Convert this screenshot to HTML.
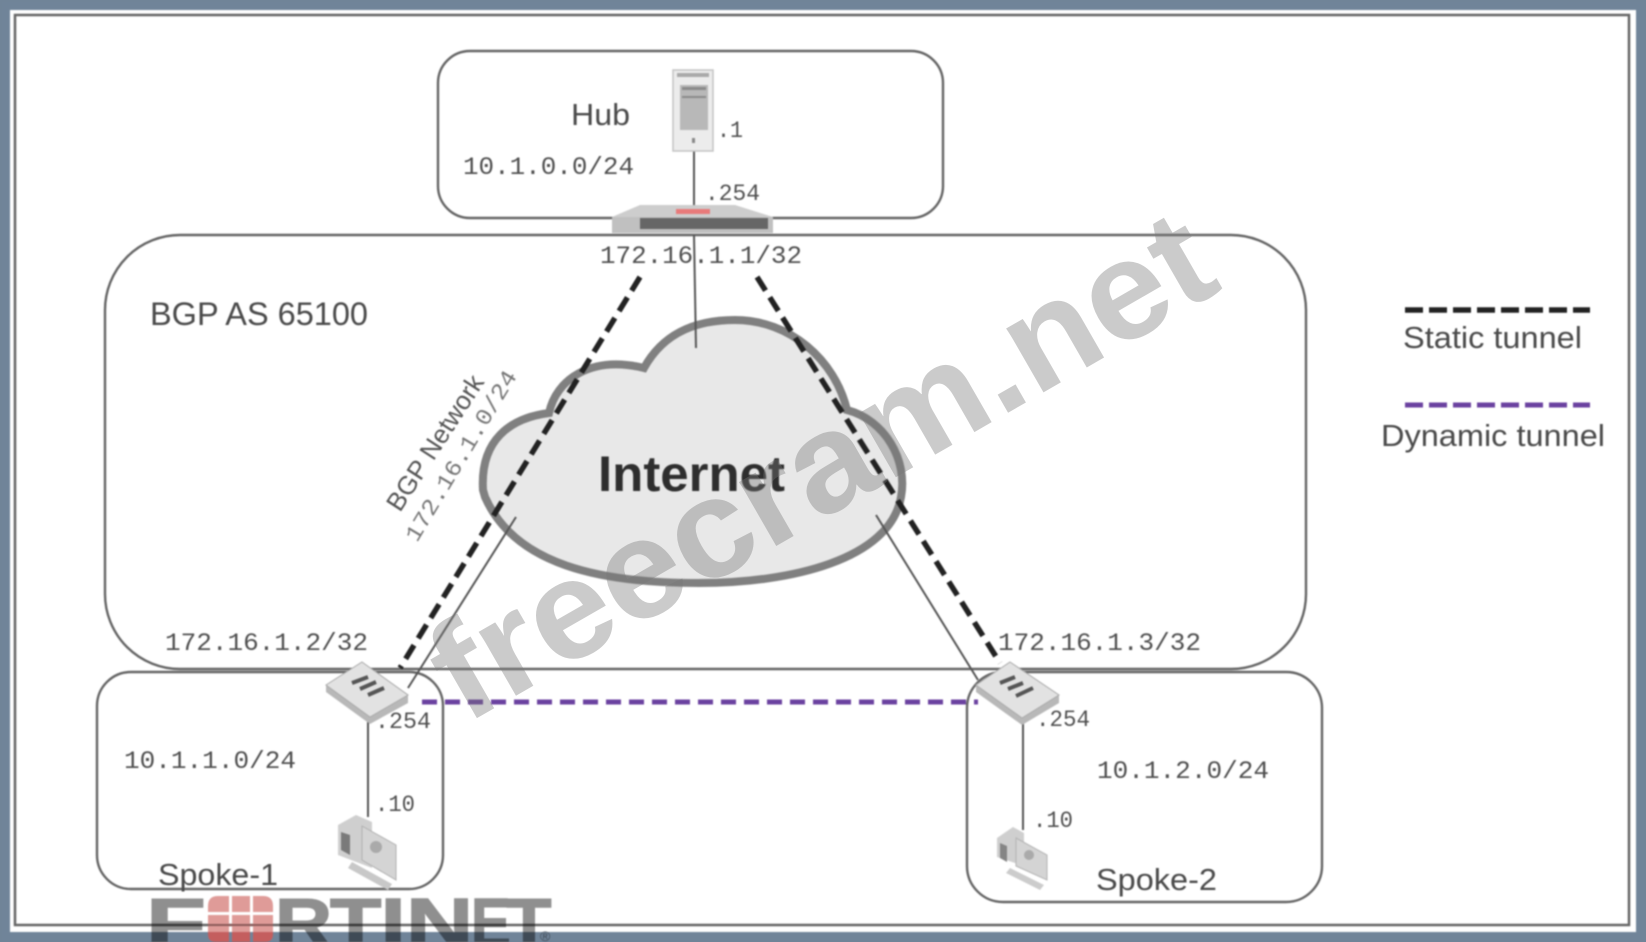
<!DOCTYPE html>
<html><head><meta charset="utf-8"><style>
html,body{margin:0;padding:0;background:#708499;width:1646px;height:942px;overflow:hidden}
svg{display:block}
.m{font-family:"Liberation Mono",monospace;font-size:25px;fill:#4f4f4f}
.n{font-size:23px}
.s{font-family:"Liberation Sans",sans-serif;font-size:31px;fill:#4a4a4a}
</style></head><body>
<svg width="1646" height="942" viewBox="0 0 1646 942" xmlns="http://www.w3.org/2000/svg">
<g style="filter:blur(0.8px)">
<rect width="1646" height="942" fill="#708499"/>
<rect x="10" y="10" width="1626" height="922" fill="#fff"/>
<rect x="15" y="15" width="1614" height="910" fill="#fff" stroke="#666" stroke-width="2.5"/>
<g fill="none" stroke="#666" stroke-width="2.4">
<rect x="105" y="235" width="1201" height="434" rx="75"/>
<rect x="438" y="51" width="505" height="167" rx="32"/>
<rect x="97" y="672" width="346" height="217" rx="34"/>
<rect x="967" y="672" width="355" height="230" rx="36"/>
</g>
<path d="M483 490C480 440 510 418 549 413C556 380 590 355 644 368C665 330 700 320 735 320C790 320 835 360 847 410C885 420 908 460 901 497C890 560 790 583 699 583C600 583 515 565 485 497Z" fill="#e8e8e8" stroke="#808080" stroke-width="8"/>
<g stroke="#555" stroke-width="2" fill="none">
<path d="M694 151V210M694 235L696 348"/>
<path d="M516 517L408 688"/>
<path d="M876 515L978 680"/>
<path d="M368 717V817"/>
<path d="M1023 718V830"/>
</g>
<g fill="none" stroke="#222" stroke-width="5.5">
<path d="M640 277L400 668" stroke-dasharray="16 8"/>
<path d="M757 277L1000 663" stroke-dasharray="16 8"/>
<path d="M1405 310H1590" stroke-dasharray="18 6"/>
</g>
<g fill="none" stroke="#6b42a0" stroke-width="5">
<path d="M422 702H978" stroke-dasharray="15 8"/>
<path d="M1405 405H1590" stroke-dasharray="18 6"/>
</g>
<!-- server -->
<rect x="673" y="70" width="40" height="81" fill="#ececec" stroke="#c4c4c4" stroke-width="1.5"/>
<rect x="680" y="85" width="28" height="45" fill="#b8b8b8"/>
<rect x="677" y="73" width="32" height="4" fill="#aaa"/>
<rect x="682" y="87" width="24" height="3" fill="#8a8a8a"/>
<rect x="682" y="96" width="24" height="2" fill="#8a8a8a"/>
<rect x="692" y="138" width="3" height="5" fill="#888"/>
<!-- hub fw -->
<polygon points="612,217 640,205 735,205 773,217 773,233 612,233" fill="#cdcdcd"/>
<rect x="612" y="217" width="161" height="16" fill="#c0c0c0"/>
<rect x="640" y="218" width="128" height="11" fill="#666"/>
<rect x="676" y="209" width="34" height="5" fill="#e87a7a"/>
<!-- spoke fw -->
<polygon points="326,685 370,717 408,695 408,703 370,724 326,692" fill="#b8b8b8"/>
<polygon points="362,662 408,695 370,717 326,685" fill="#e2e2e2" stroke="#aaa"/>
<g stroke="#555" stroke-width="4"><path d="M352 683L368 677M360 689L376 682M368 695L384 688"/></g>
<polygon points="976,685 1022,718 1059,695 1059,703 1022,725 976,692" fill="#b8b8b8"/>
<polygon points="1010,662 1059,695 1022,718 976,685" fill="#e2e2e2" stroke="#aaa"/>
<g stroke="#555" stroke-width="4"><path d="M1000 683L1015 677M1008 689L1023 683M1016 696L1033 688"/></g>
<!-- pc 1 -->
<polygon points="338,825 356,815 372,822 372,868 338,855" fill="#cfcfcf"/>
<polygon points="341,832 350,835 350,855 341,850" fill="#7a7a7a"/>
<polygon points="362,826 396,845 396,880 362,860" fill="#d4d4d4" stroke="#b0b0b0"/>
<circle cx="376" cy="847" r="6" fill="#aaa"/>
<polygon points="352,862 392,884 388,890 348,868" fill="#c8c8c8"/>
<!-- pc 2 -->
<polygon points="997,838 1013,827 1024,833 1024,866 997,857" fill="#cfcfcf"/>
<polygon points="1000,843 1007,846 1007,862 1000,858" fill="#858585"/>
<polygon points="1016,838 1047,855 1047,880 1016,866" fill="#d4d4d4" stroke="#b4b4b4"/>
<circle cx="1029" cy="855" r="5" fill="#aaa"/>
<polygon points="1010,868 1044,885 1040,890 1006,873" fill="#cccccc"/>
<!-- labels -->
<text class="s" x="571" y="125" textLength="59" lengthAdjust="spacingAndGlyphs">Hub</text>
<text class="m" x="463" y="174" textLength="171" lengthAdjust="spacingAndGlyphs">10.1.0.0/24</text>
<text class="m n" x="717" y="137" textLength="26" lengthAdjust="spacingAndGlyphs">.1</text>
<text class="m n" x="705" y="200" textLength="55" lengthAdjust="spacingAndGlyphs">.254</text>
<text class="m" x="600" y="263" textLength="202" lengthAdjust="spacingAndGlyphs">172.16.1.1/32</text>
<text class="s" x="150" y="325" textLength="218" lengthAdjust="spacingAndGlyphs" style="font-size:32px">BGP AS 65100</text>
<text class="s" transform="translate(400 513) rotate(-57)" textLength="156" lengthAdjust="spacingAndGlyphs" style="font-size:26px;fill:#555">BGP Network</text>
<text class="m" transform="translate(417 543) rotate(-59)" textLength="195" lengthAdjust="spacingAndGlyphs" style="font-size:23px;fill:#777">172.16.1.0/24</text>
<text class="m" x="165" y="650" textLength="203" lengthAdjust="spacingAndGlyphs">172.16.1.2/32</text>
<text class="m" x="124" y="768" textLength="172" lengthAdjust="spacingAndGlyphs">10.1.1.0/24</text>
<text class="m n" x="375" y="728" textLength="56" lengthAdjust="spacingAndGlyphs">.254</text>
<text class="m n" x="375" y="811" textLength="40" lengthAdjust="spacingAndGlyphs">.10</text>
<text class="s" x="158" y="885" textLength="120" lengthAdjust="spacingAndGlyphs">Spoke-1</text>
<text class="m" x="998" y="650" textLength="203" lengthAdjust="spacingAndGlyphs">172.16.1.3/32</text>
<text class="m n" x="1036" y="726" textLength="54" lengthAdjust="spacingAndGlyphs">.254</text>
<text class="m" x="1097" y="778" textLength="172" lengthAdjust="spacingAndGlyphs">10.1.2.0/24</text>
<text class="m n" x="1033" y="827" textLength="40" lengthAdjust="spacingAndGlyphs">.10</text>
<text class="s" x="1096" y="890" textLength="121" lengthAdjust="spacingAndGlyphs">Spoke-2</text>
<text class="s" x="1403" y="348" textLength="179" lengthAdjust="spacingAndGlyphs">Static tunnel</text>
<text class="s" x="1381" y="446" textLength="224" lengthAdjust="spacingAndGlyphs">Dynamic tunnel</text>
<text x="598" y="491" textLength="187" lengthAdjust="spacingAndGlyphs" style="font-family:'Liberation Sans',sans-serif;font-weight:bold;font-size:50px;fill:#2e2e2e">Internet</text>
<!-- logo -->
<g style="mix-blend-mode:multiply" fill="#8f8f8f" stroke="#8f8f8f" stroke-width="1.5" font-family="'Liberation Sans',sans-serif" font-weight="bold" font-size="70">
<text transform="translate(146 947) scale(1.4 1)">F</text>
<text transform="translate(275 947) scale(1.13 1)">R</text>
<text transform="translate(330 947) scale(1.2 1)">T</text>
<text transform="translate(380.5 947) scale(1.3 1)">I</text>
<text transform="translate(406 947) scale(1.33 1)">N</text>
<text transform="translate(471 947) scale(.85 1)">E</text>
<text transform="translate(506.5 947) scale(1.05 1)">T</text>
</g>
<g fill="#df9b98">
<path d="M208 912V906Q208 896 218 896H229V912Z"/><rect x="232" y="896" width="18" height="16"/><path d="M253 896H263Q273 896 273 906V912H253Z"/>
<rect x="208" y="915" width="21" height="17"/><rect x="232" y="915" width="18" height="17"/><rect x="253" y="915" width="20" height="17"/>
</g>
<g fill="#c45e5e">
<path d="M208 932H229V942H216Q208 942 208 934Z"/><rect x="232" y="932" width="18" height="10"/><path d="M253 932H273V934Q273 942 265 942H253Z"/>
</g>
<rect x="208" y="924" width="65" height="2" fill="#8a5a58"/>
<text x="540" y="941" style="font-family:'Liberation Sans',sans-serif;font-size:14px;fill:#3e4955">®</text>
</g>
<!-- watermark -->
<text transform="translate(465 725) rotate(-29.9)" textLength="876" lengthAdjust="spacingAndGlyphs" style="font-family:'Liberation Sans',sans-serif;font-weight:bold;font-size:140px;fill:#777;fill-opacity:.38">freecram.net</text>
</svg>
</body></html>
